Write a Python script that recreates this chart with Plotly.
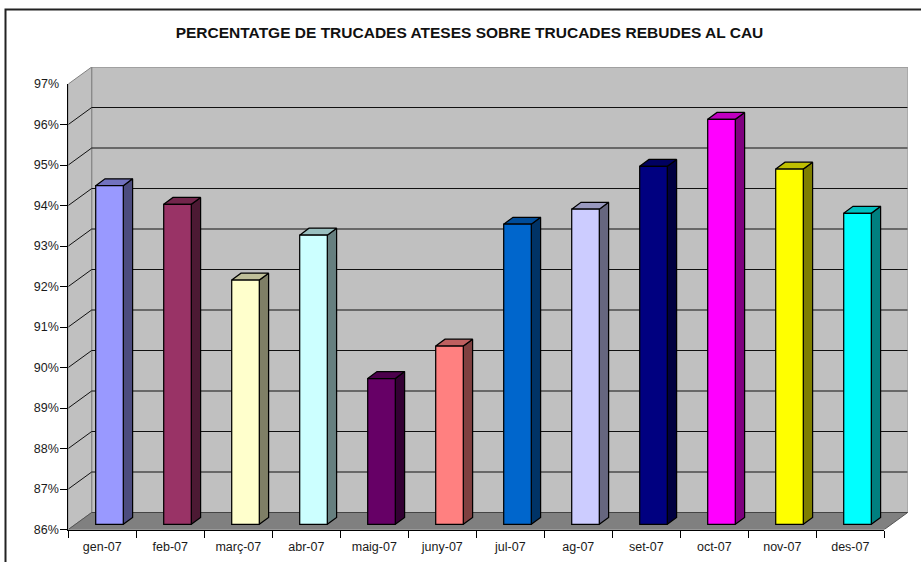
import plotly.graph_objects as go

# ---- data ----
months = ["gen-07", "feb-07", "març-07", "abr-07", "maig-07", "juny-07",
          "jul-07", "ag-07", "set-07", "oct-07", "nov-07", "des-07"]
pct = [94.36, 93.90, 92.03, 93.14, 89.60, 90.40, 93.41, 93.78, 94.84, 96.00, 94.77, 93.68]
colors = ["#9999FF", "#993366", "#FFFFCC", "#CCFFFF", "#660066", "#FF8080",
          "#0066CC", "#CCCCFF", "#000080", "#FF00FF", "#FFFF00", "#00FFFF"]
y_ticks = [86, 87, 88, 89, 90, 91, 92, 93, 94, 95, 96, 97]
title = "PERCENTATGE DE TRUCADES ATESES SOBRE TRUCADES REBUDES AL CAU"

# ---- layout constants (pixels in a 921x562 page) ----
W, H = 921, 562
L, R, B, T = 68.3, 884.3, 529.5, 84.0      # front plane of the axes
BACK_DX, BACK_DY = 23.4, 17.0              # depth of the box in px
CAT_PX = (R - L) / len(months)
PCT_PX = (B - T) / (y_ticks[-1] - y_ticks[0])
DX, DY = BACK_DX / CAT_PX, BACK_DY / PCT_PX    # depth in data units
BAR_W = 27.6 / CAT_PX
BAR_SHIFT_X, BAR_SHIFT_Y = 7.2 / CAT_PX, 5.2 / PCT_PX
BAR_DX, BAR_DY = 9.3 / CAT_PX, 6.9 / PCT_PX


def shade(hex_color, k):
    r, g, b = (int(hex_color[i:i + 2], 16) for i in (1, 3, 5))
    return f"rgb({int(r * k)},{int(g * k)},{int(b * k)})"


fig = go.Figure()


def poly(xs, ys, fill, line="rgba(0,0,0,0)", width=1):
    fig.add_trace(go.Scatter(x=xs, y=ys, mode="lines", fill="toself", fillcolor=fill,
                             line=dict(color=line, width=width), hoverinfo="skip",
                             showlegend=False, xaxis="x", yaxis="y", cliponaxis=False))


def seg(xs, ys, color, width=1):
    fig.add_trace(go.Scatter(x=xs, y=ys, mode="lines", line=dict(color=color, width=width),
                             hoverinfo="skip", showlegend=False, xaxis="x", yaxis="y",
                             cliponaxis=False))


n = len(months)
y0, y1 = y_ticks[0], y_ticks[-1]
# walls and floor
poly([DX, n + DX, n + DX, DX, DX], [y0 + DY, y0 + DY, y1 + DY, y1 + DY, y0 + DY], "#C0C0C0", "#808080")
poly([0, DX, DX, 0, 0], [y0, y0 + DY, y1 + DY, y1, y0], "#C0C0C0", "#808080")
poly([0, n, n + DX, DX, 0], [y0, y0, y0 + DY, y0 + DY, y0], "#808080", "#555555")
# gridlines on both walls
for t in y_ticks[1:-1]:
    seg([0, DX, n + DX], [t, t + DY, t + DY], "#111111")
seg([DX, n + DX], [y0 + DY, y0 + DY], "#444444")

# side and top faces of the bars
for i, (v, c) in enumerate(zip(pct, colors)):
    x_l = i + 0.5 + BAR_SHIFT_X - BAR_W / 2
    x_r = x_l + BAR_W
    b = y0 + BAR_SHIFT_Y
    t = v + BAR_SHIFT_Y
    poly([x_r, x_r + BAR_DX, x_r + BAR_DX, x_r, x_r], [b, b + BAR_DY, t + BAR_DY, t, b],
         shade(c, 0.5), "#000000", 1.25)
    poly([x_l, x_r, x_r + BAR_DX, x_l + BAR_DX, x_l], [t, t, t + BAR_DY, t + BAR_DY, t],
         shade(c, 0.75), "#000000", 1.25)

# front faces, on the visible axes
fig.add_trace(go.Bar(
    x=months,
    y=[v - y0 for v in pct],
    base=y0 + BAR_SHIFT_Y,
    width=BAR_W,
    offset=BAR_SHIFT_X - BAR_W / 2,
    marker=dict(color=colors, line=dict(color="#000000", width=1.25)),
    customdata=pct,
    hovertemplate="%{x}: %{customdata}%<extra></extra>",
    showlegend=False, xaxis="x2", yaxis="y2", cliponaxis=False,
))

font = dict(family="Liberation Sans, Arial, sans-serif", color="#1a1a1a", size=12.5)
fig.update_layout(
    width=W, height=H, margin=dict(l=0, r=0, t=0, b=0, pad=0, autoexpand=False),
    paper_bgcolor="#FFFFFF", plot_bgcolor="rgba(0,0,0,0)", showlegend=False,
    font=font,
    xaxis=dict(domain=[L / W, (R + BACK_DX) / W], range=[0, n + DX], visible=False, fixedrange=True),
    yaxis=dict(domain=[(H - B) / H, (H - T + BACK_DY) / H], range=[y0, y1 + DY], visible=False, fixedrange=True),
    xaxis2=dict(domain=[L / W, R / W], anchor="y2", type="category", categoryorder="array",
                categoryarray=months, range=[-0.5, n - 0.5], tickson="boundaries",
                ticks="outside", ticklen=7, tickcolor="#000000", tickwidth=1,
                showline=True, linecolor="#000000", linewidth=1, showgrid=False,
                zeroline=False, tickangle=0, tickfont=font, ticklabelstandoff=5, fixedrange=True),
    yaxis2=dict(domain=[(H - B) / H, (H - T) / H], anchor="x2", range=[y0, y1],
                tickvals=y_ticks[:-1], ticktext=[f"{t}%" for t in y_ticks[:-1]],
                ticks="outside", ticklen=7, tickcolor="#000000", tickwidth=1,
                showline=True, linecolor="#000000", linewidth=1, showgrid=False,
                zeroline=False, tickfont=font, ticklabelstandoff=-1, fixedrange=True),
    title=dict(text=f"<b>{title}</b>", x=469.5 / W, xanchor="center", y=1 - 33 / H, yanchor="middle",
               font=dict(family="Liberation Sans, Arial, sans-serif", size=15.5, color="#111111")),
    annotations=[dict(text=f"{y_ticks[-1]}%", xref="paper", yref="y2", x=59.5 / W, y=y_ticks[-1],
                      xanchor="right", yanchor="middle", showarrow=False, font=font, borderpad=0)],
    shapes=[dict(type="rect", xref="paper", yref="paper",
                 x0=5.5 / W, x1=1.1, y0=-0.1, y1=1 - 9.5 / H,
                 line=dict(color="#222222", width=2), fillcolor="rgba(0,0,0,0)", layer="below")],
)
fig.write_html("out.html", config={"displayModeBar": False},
               post_script="document.body.style.margin='0';document.documentElement.style.overflow='hidden';")
